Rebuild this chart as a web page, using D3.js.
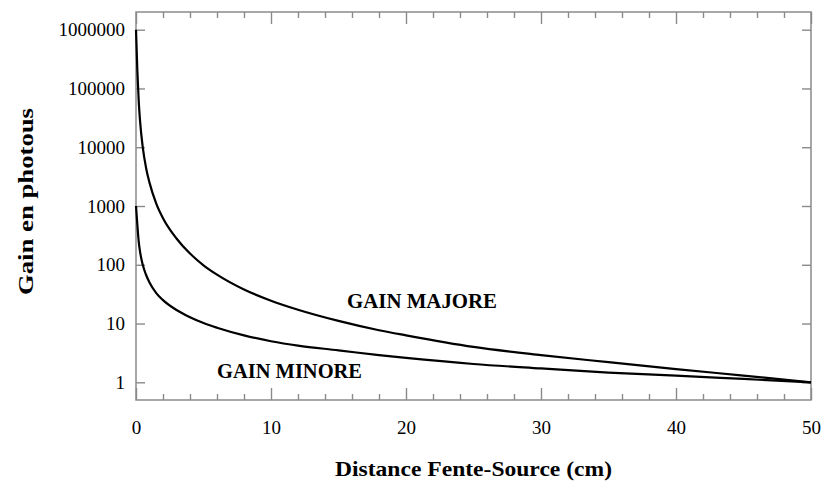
<!DOCTYPE html>
<html>
<head>
<meta charset="utf-8">
<script src="https://cdn.jsdelivr.net/npm/d3@7"></script>
<style>
  body { margin: 0; background: #fff; }
  text { font-family: "Liberation Serif", "DejaVu Serif", serif; fill: #000; }
</style>
</head>
<body>
<div class="canvas"></div>
<script>
// distance fente-source (cm) and gains
var distance = [0, 0.1, 0.2, 0.3, 0.5, 0.75, 1, 1.5, 2, 3, 4, 5, 6, 8, 10, 12, 15, 18, 20, 25, 30, 35, 40, 45, 50];
var gainMajore = [1000000, 200000, 62000, 28000, 10000, 4400, 2500, 1100, 620, 280, 155, 98, 68, 38, 24.5, 17.2, 11.1, 7.7, 6.3, 4.0, 2.9, 2.2, 1.68, 1.3, 1];
var gainMinore = [1000, 480, 250, 167, 100, 67, 50, 33, 25, 17, 12.8, 10.2, 8.5, 6.3, 5, 4.2, 3.5, 2.9, 2.6, 2.05, 1.72, 1.46, 1.3, 1.14, 1];
var xTicks = [0, 10, 20, 30, 40, 50];
var yTicks = [1, 10, 100, 1000, 10000, 100000, 1000000];

var svg, x, y;

function init() {
    var width = 823,
        height = 486;
    var left = 136, right = 811, top = 12, bottom = 400;

    svg = d3.select(".canvas").append("svg")
            .attr("width", width)
            .attr("height", height);

    x = d3.scaleLinear().domain([0, 50]).range([left, right]);
    y = d3.scaleLog().domain([0.5, 2000000]).range([bottom, top]);

    var minor = d3.range(0, 51, 2).filter(function (d) { return d % 10 !== 0; });

    // bottom axis, ticks pointing inward
    svg.append("g").attr("class", "axis")
       .attr("transform", "translate(0," + bottom + ")")
       .call(d3.axisBottom(x).tickValues(xTicks).tickSizeInner(-12).tickSizeOuter(0).tickPadding(21));
    svg.append("g").attr("class", "axis minor")
       .attr("transform", "translate(0," + bottom + ")")
       .call(d3.axisBottom(x).tickValues(minor).tickSizeInner(-6).tickSizeOuter(0).tickFormat(""));
    // top mirror
    svg.append("g").attr("class", "axis")
       .attr("transform", "translate(0," + top + ")")
       .call(d3.axisTop(x).tickValues(xTicks).tickSizeInner(-12).tickSizeOuter(0).tickFormat(""));
    svg.append("g").attr("class", "axis minor")
       .attr("transform", "translate(0," + top + ")")
       .call(d3.axisTop(x).tickValues(minor).tickSizeInner(-6).tickSizeOuter(0).tickFormat(""));
    // left axis
    svg.append("g").attr("class", "axis")
       .attr("transform", "translate(" + left + ",0)")
       .call(d3.axisLeft(y).tickValues(yTicks).tickSizeInner(-9).tickSizeOuter(0).tickPadding(11)
             .tickFormat(d3.format("d")));
    // right mirror
    svg.append("g").attr("class", "axis")
       .attr("transform", "translate(" + right + ",0)")
       .call(d3.axisRight(y).tickValues(yTicks).tickSizeInner(-9).tickSizeOuter(0).tickFormat(""));

    svg.selectAll(".axis .domain").remove();
    svg.selectAll(".axis line").attr("stroke", "#8a8a8a").attr("stroke-width", 1.4);
    svg.selectAll(".axis text")
       .style("font-family", "'Liberation Serif', serif")
       .style("font-size", "19px")
       .attr("fill", "#000");

    svg.append("rect")
       .attr("x", left).attr("y", top)
       .attr("width", right - left).attr("height", bottom - top)
       .attr("fill", "none")
       .attr("stroke", "#8a8a8a")
       .attr("stroke-width", 1.5);

    var line = d3.line()
                 .x(function (d) { return x(d[0]); })
                 .y(function (d) { return y(d[1]); })
                 .curve(d3.curveMonotoneX);

    [gainMajore, gainMinore].forEach(function (series) {
        svg.append("path")
           .datum(d3.zip(distance, series))
           .attr("d", line)
           .attr("fill", "none")
           .attr("stroke", "#000")
           .attr("stroke-width", 2.2);
    });

    // annotations
    svg.append("text")
       .attr("x", 347).attr("y", 308)
       .attr("textLength", 150).attr("lengthAdjust", "spacingAndGlyphs")
       .style("font-size", "21px").style("font-weight", "bold")
       .text("GAIN MAJORE");
    svg.append("text")
       .attr("x", 217).attr("y", 378)
       .attr("textLength", 145).attr("lengthAdjust", "spacingAndGlyphs")
       .style("font-size", "21px").style("font-weight", "bold")
       .text("GAIN MINORE");

    // axis titles
    svg.append("text")
       .attr("x", 335).attr("y", 476)
       .attr("textLength", 277).attr("lengthAdjust", "spacingAndGlyphs")
       .style("font-size", "22px").style("font-weight", "bold")
       .text("Distance Fente-Source (cm)");
    svg.append("text")
       .attr("transform", "translate(33,295) rotate(-90)")
       .attr("textLength", 187).attr("lengthAdjust", "spacingAndGlyphs")
       .style("font-size", "22px").style("font-weight", "bold")
       .text("Gain en photous");
}

init();
</script>
</body>
</html>
